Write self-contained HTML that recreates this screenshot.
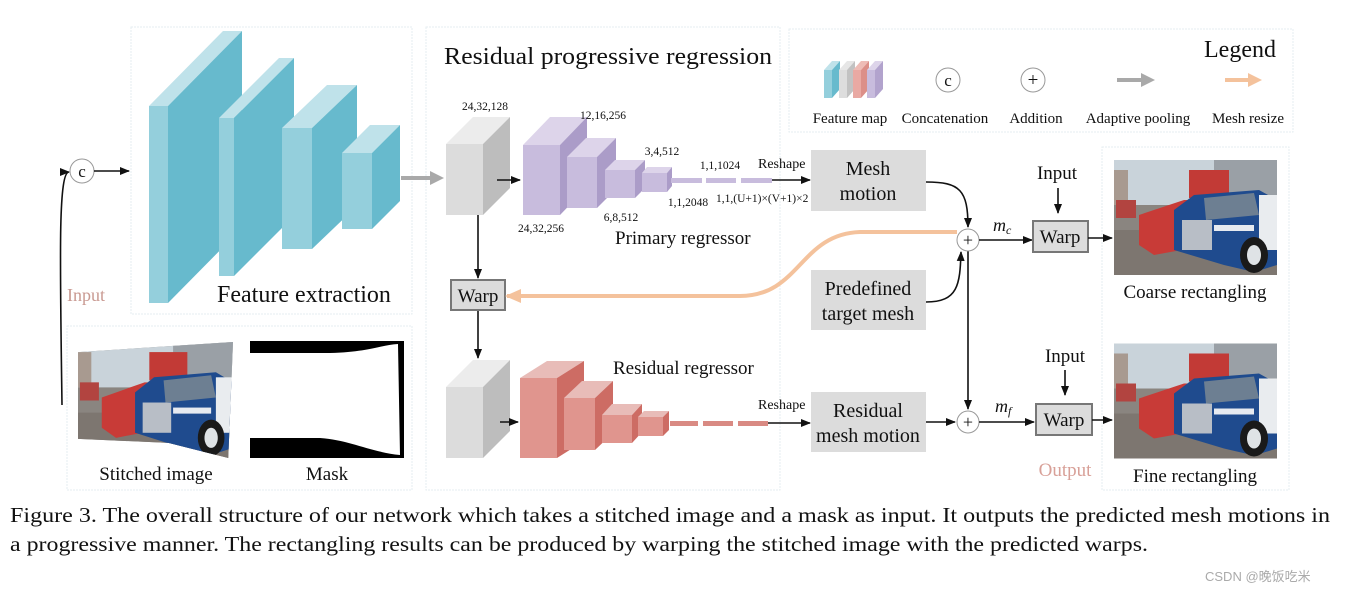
<!DOCTYPE html>
<html><head><meta charset="utf-8"><style>
html,body{margin:0;padding:0;background:#fff}
svg{display:block}
text{font-family:"Liberation Serif",serif;fill:#111}
</style></head><body>
<svg width="1358" height="594" viewBox="0 0 1358 594" xmlns="http://www.w3.org/2000/svg">
<defs>
<marker id="ah" markerWidth="10" markerHeight="8" refX="9" refY="4" orient="auto" markerUnits="userSpaceOnUse"><path d="M0,0 L10,4 L0,8 z" fill="#111"/></marker>
<marker id="oh" markerWidth="16" markerHeight="14" refX="14" refY="7" orient="auto" markerUnits="userSpaceOnUse"><path d="M0,0 L16,7 L0,14 z" fill="#f4c29c"/></marker>
<symbol id="photo" viewBox="0 0 163 115">
<rect width="163" height="115" fill="#8a8580"/>
<rect width="163" height="45" fill="#c9d3da"/>
<rect x="100" y="0" width="63" height="40" fill="#9aa0a6"/>
<rect x="75" y="10" width="40" height="28" fill="#c23a36"/>
<rect x="0" y="10" width="14" height="35" fill="#a89a90"/>
<rect x="0" y="70" width="163" height="45" fill="#7d7670"/>
<rect x="2" y="40" width="20" height="18" fill="#b24440"/>
<path d="M25,55 L70,40 L95,40 L95,85 L40,95 L25,85z" fill="#c83b37"/>
<path d="M60,50 L80,35 L145,30 L163,40 L163,105 L140,112 L110,105 L60,90z" fill="#1f4b8e"/>
<path d="M90,38 L140,33 L145,55 L92,60z" fill="#6d7f92"/>
<rect x="145" y="35" width="18" height="55" fill="#e9ecef"/>
<rect x="68" y="60" width="30" height="30" fill="#b8bec6"/>
<ellipse cx="140" cy="95" rx="14" ry="18" fill="#1a1a1a"/>
<ellipse cx="140" cy="95" rx="7" ry="10" fill="#dfe3e6"/>
<rect x="100" y="65" width="40" height="6" fill="#e6eaf0"/>
</symbol>
</defs>

<g fill="none" stroke="#e6eef0" stroke-width="1" stroke-dasharray="2,1">
<rect x="131" y="27" width="281" height="287"/>
<rect x="67" y="326" width="345" height="164"/>
<rect x="426" y="27" width="354" height="463"/>
<rect x="789" y="29" width="504" height="103"/>
<rect x="1102" y="147" width="187" height="343"/>
</g>

<g>
<polygon points="149,106 223,31 242,31 168,106" fill="#bfe2ea"/>
<polygon points="168,106 242,31 242,228 168,303" fill="#67bacd"/>
<rect x="149" y="106" width="19" height="197" fill="#94cfdc"/>
<polygon points="219,118 279,58 294,58 234,118" fill="#bfe2ea"/>
<polygon points="234,118 294,58 294,216 234,276" fill="#67bacd"/>
<rect x="219" y="118" width="15" height="158" fill="#94cfdc"/>
<polygon points="282,128 327,85 357,85 312,128" fill="#bfe2ea"/>
<polygon points="312,128 357,85 357,206 312,249" fill="#67bacd"/>
<rect x="282" y="128" width="30" height="121" fill="#94cfdc"/>
<polygon points="342,153 370,125 400,125 372,153" fill="#bfe2ea"/>
<polygon points="372,153 400,125 400,201 372,229" fill="#67bacd"/>
<rect x="342" y="153" width="30" height="76" fill="#94cfdc"/>
</g>
<text x="217" y="302" font-size="24">Feature extraction</text>
<line x1="401" y1="178" x2="432" y2="178" stroke="#a9a9a9" stroke-width="4"/>
<polygon points="430,171 444,178 430,185" fill="#a9a9a9"/>

<circle cx="82" cy="171" r="12" fill="#fff" stroke="#999"/>
<text x="82" y="177" font-size="17" text-anchor="middle">c</text>
<line x1="94" y1="171" x2="129" y2="171" stroke="#111" stroke-width="1.6" marker-end="url(#ah)"/>
<path d="M62,405 C60,260 58,172 69,172" fill="none" stroke="#111" stroke-width="1.6" marker-end="url(#ah)"/>
<text x="67" y="301" font-size="18" style="fill:#c99a92">Input</text>

<svg x="78" y="342" width="155" height="116" viewBox="0 0 163 115" preserveAspectRatio="none">
<clipPath id="cq"><polygon points="0,10 163,0 158,115 95,100 0,96"/></clipPath>
<g clip-path="url(#cq)"><use href="#photo"/></g>
</svg>
<rect x="250" y="341" width="154" height="117" fill="#000"/>
<path d="M250,353 L330,353 C370,352 380,345 398,344 L400,455 C370,452 350,440 320,438 L250,438 z" fill="#fff"/>
<text x="156" y="480" font-size="19" text-anchor="middle">Stitched image</text>
<text x="327" y="480" font-size="19" text-anchor="middle">Mask</text>

<text x="444" y="64" font-size="24" textLength="328" lengthAdjust="spacingAndGlyphs">Residual progressive regression</text>
<polygon points="446,144 473,117 510,117 483,144" fill="#ececec"/>
<polygon points="483,144 510,117 510,188 483,215" fill="#bdbdbd"/>
<rect x="446" y="144" width="37" height="71" fill="#dcdcdc"/>
<line x1="497" y1="180" x2="520" y2="180" stroke="#111" stroke-width="1.6" marker-end="url(#ah)"/>
<g>
<polygon points="523,145 550,117 587,117 560,145" fill="#ddd4ea"/>
<polygon points="560,145 587,117 587,187 560,215" fill="#ab9cc8"/>
<rect x="523" y="145" width="37" height="70" fill="#c8bcdd"/>
<polygon points="567,157 586,138 616,138 597,157" fill="#ddd4ea"/>
<polygon points="597,157 616,138 616,189 597,208" fill="#ab9cc8"/>
<rect x="567" y="157" width="30" height="51" fill="#c8bcdd"/>
<polygon points="605,170 615,160 645,160 635,170" fill="#ddd4ea"/>
<polygon points="635,170 645,160 645,188 635,198" fill="#ab9cc8"/>
<rect x="605" y="170" width="30" height="28" fill="#c8bcdd"/>
<polygon points="642,173 647,167 672,167 667,173" fill="#ddd4ea"/>
<polygon points="667,173 672,167 672,186 667,192" fill="#ab9cc8"/>
<rect x="642" y="173" width="25" height="19" fill="#c8bcdd"/>
<rect x="671" y="178" width="31" height="5" fill="#c8bcdd"/>
<rect x="706" y="178" width="30" height="5" fill="#c8bcdd"/>
<rect x="741" y="178" width="31" height="5" fill="#c8bcdd"/>
</g>
<line x1="772" y1="180" x2="810" y2="180" stroke="#111" stroke-width="1.6" marker-end="url(#ah)"/>
<g font-size="11.5">
<text x="485" y="110" text-anchor="middle">24,32,128</text>
<text x="603" y="119" text-anchor="middle">12,16,256</text>
<text x="662" y="155" text-anchor="middle">3,4,512</text>
<text x="720" y="169" text-anchor="middle">1,1,1024</text>
<text x="688" y="206" text-anchor="middle">1,1,2048</text>
<text x="716" y="202">1,1,(U+1)×(V+1)×2</text>
<text x="541" y="232" text-anchor="middle">24,32,256</text>
<text x="621" y="221" text-anchor="middle">6,8,512</text>
</g>
<text x="758" y="168" font-size="14">Reshape</text>
<text x="615" y="244" font-size="19">Primary regressor</text>

<line x1="478" y1="215" x2="478" y2="278" stroke="#111" stroke-width="1.6" marker-end="url(#ah)"/>
<rect x="451" y="280" width="54" height="30" fill="#dcdcdc" stroke="#777" stroke-width="2"/>
<text x="478" y="302" font-size="19" text-anchor="middle">Warp</text>
<line x1="478" y1="311" x2="478" y2="358" stroke="#111" stroke-width="1.6" marker-end="url(#ah)"/>

<polygon points="446,387 473,360 510,360 483,387" fill="#ececec"/>
<polygon points="483,387 510,360 510,431 483,458" fill="#bdbdbd"/>
<rect x="446" y="387" width="37" height="71" fill="#dcdcdc"/>
<line x1="500" y1="422" x2="518" y2="422" stroke="#111" stroke-width="1.6" marker-end="url(#ah)"/>
<g>
<polygon points="520,378 547,361 584,361 557,378" fill="#e8bcb8"/>
<polygon points="557,378 584,361 584,441 557,458" fill="#cd6c64"/>
<rect x="520" y="378" width="37" height="80" fill="#e0958e"/>
<polygon points="564,398 582,381 613,381 595,398" fill="#e8bcb8"/>
<polygon points="595,398 613,381 613,433 595,450" fill="#cd6c64"/>
<rect x="564" y="398" width="31" height="52" fill="#e0958e"/>
<polygon points="602,415 612,404 642,404 632,415" fill="#e8bcb8"/>
<polygon points="632,415 642,404 642,432 632,443" fill="#cd6c64"/>
<rect x="602" y="415" width="30" height="28" fill="#e0958e"/>
<polygon points="638,417 644,411 669,411 663,417" fill="#e8bcb8"/>
<polygon points="663,417 669,411 669,430 663,436" fill="#cd6c64"/>
<rect x="638" y="417" width="25" height="19" fill="#e0958e"/>
<rect x="670" y="421" width="28" height="5" fill="#d98a83"/>
<rect x="703" y="421" width="30" height="5" fill="#d98a83"/>
<rect x="738" y="421" width="30" height="5" fill="#d98a83"/>
</g>
<line x1="768" y1="423" x2="810" y2="423" stroke="#111" stroke-width="1.6" marker-end="url(#ah)"/>
<text x="758" y="409" font-size="14">Reshape</text>
<text x="613" y="374" font-size="19">Residual regressor</text>

<rect x="811" y="150" width="115" height="61" fill="#dcdcdc"/>
<text x="868" y="175" font-size="20" text-anchor="middle">Mesh</text>
<text x="868" y="200" font-size="20" text-anchor="middle">motion</text>
<rect x="811" y="270" width="115" height="60" fill="#dcdcdc"/>
<text x="868" y="295" font-size="20" text-anchor="middle">Predefined</text>
<text x="868" y="320" font-size="20" text-anchor="middle">target mesh</text>
<rect x="811" y="392" width="115" height="60" fill="#dcdcdc"/>
<text x="868" y="417" font-size="20" text-anchor="middle">Residual</text>
<text x="868" y="442" font-size="20" text-anchor="middle">mesh motion</text>

<path d="M957,232 L860,232 C800,234 800,296 740,296 L507,296" fill="none" stroke="#f4c29c" stroke-width="4" marker-end="url(#oh)"/>

<path d="M926,182 C960,182 968,190 968,227" fill="none" stroke="#111" stroke-width="1.6" marker-end="url(#ah)"/>
<path d="M926,302 C958,302 960,285 961,252" fill="none" stroke="#111" stroke-width="1.6" marker-end="url(#ah)"/>
<line x1="968" y1="251" x2="968" y2="409" stroke="#111" stroke-width="1.6" marker-end="url(#ah)"/>
<line x1="926" y1="422" x2="955" y2="422" stroke="#111" stroke-width="1.6" marker-end="url(#ah)"/>
<circle cx="968" cy="240" r="11" fill="#fff" stroke="#999"/>
<text x="968" y="246" font-size="18" text-anchor="middle">+</text>
<circle cx="968" cy="422" r="11" fill="#fff" stroke="#999"/>
<text x="968" y="428" font-size="18" text-anchor="middle">+</text>

<line x1="979" y1="240" x2="1032" y2="240" stroke="#111" stroke-width="1.6" marker-end="url(#ah)"/>
<line x1="979" y1="422" x2="1034" y2="422" stroke="#111" stroke-width="1.6" marker-end="url(#ah)"/>
<text x="993" y="231" font-size="18" font-style="italic">m<tspan font-size="12" dy="3">c</tspan></text>
<text x="995" y="412" font-size="18" font-style="italic">m<tspan font-size="12" dy="3">f</tspan></text>

<rect x="1033" y="221" width="55" height="31" fill="#dcdcdc" stroke="#777" stroke-width="2"/>
<text x="1060" y="243" font-size="19" text-anchor="middle">Warp</text>
<rect x="1036" y="404" width="56" height="31" fill="#dcdcdc" stroke="#777" stroke-width="2"/>
<text x="1064" y="426" font-size="19" text-anchor="middle">Warp</text>
<text x="1057" y="179" font-size="19" text-anchor="middle">Input</text>
<line x1="1058" y1="188" x2="1058" y2="213" stroke="#111" stroke-width="1.6" marker-end="url(#ah)"/>
<text x="1065" y="362" font-size="19" text-anchor="middle">Input</text>
<line x1="1065" y1="370" x2="1065" y2="395" stroke="#111" stroke-width="1.6" marker-end="url(#ah)"/>
<line x1="1088" y1="238" x2="1112" y2="238" stroke="#111" stroke-width="1.6" marker-end="url(#ah)"/>
<line x1="1092" y1="420" x2="1112" y2="420" stroke="#111" stroke-width="1.6" marker-end="url(#ah)"/>
<text x="1065" y="476" font-size="19" text-anchor="middle" style="fill:#d8a098">Output</text>

<use href="#photo" x="1114" y="160" width="163" height="115"/>
<use href="#photo" x="1114" y="343" width="163" height="116"/>
<text x="1195" y="298" font-size="19" text-anchor="middle">Coarse rectangling</text>
<text x="1195" y="482" font-size="19" text-anchor="middle">Fine rectangling</text>

<text x="1204" y="57" font-size="24">Legend</text>
<g>
<polygon points="824,70 832,61 840,61 832,70" fill="#bfe2ea"/><rect x="824" y="70" width="8" height="28" fill="#94cfdc"/><polygon points="832,70 840,61 840,89 832,98" fill="#67bacd"/>
<polygon points="839,70 847,61 855,61 847,70" fill="#e6e6e6"/><rect x="839" y="70" width="8" height="28" fill="#ddd"/><polygon points="847,70 855,61 855,89 847,98" fill="#c2c2c2"/>
<polygon points="853,70 861,61 869,61 861,70" fill="#eebcb6"/><rect x="853" y="70" width="8" height="28" fill="#e9a9a3"/><polygon points="861,70 869,61 869,89 861,98" fill="#dc8f88"/>
<polygon points="867,70 875,61 883,61 875,70" fill="#ddd4ea"/><rect x="867" y="70" width="8" height="28" fill="#c8bcdd"/><polygon points="875,70 883,61 883,89 875,98" fill="#b2a3cd"/>
</g>
<circle cx="948" cy="80" r="12" fill="#fff" stroke="#999"/>
<text x="948" y="86" font-size="17" text-anchor="middle">c</text>
<circle cx="1033" cy="80" r="12" fill="#fff" stroke="#999"/>
<text x="1033" y="86" font-size="19" text-anchor="middle">+</text>
<line x1="1117" y1="80" x2="1143" y2="80" stroke="#a9a9a9" stroke-width="4"/>
<polygon points="1141,73 1155,80 1141,87" fill="#a9a9a9"/>
<line x1="1225" y1="80" x2="1250" y2="80" stroke="#f4c29c" stroke-width="4"/>
<polygon points="1248,73 1262,80 1248,87" fill="#f4c29c"/>
<g font-size="15">
<text x="850" y="123" text-anchor="middle">Feature map</text>
<text x="945" y="123" text-anchor="middle">Concatenation</text>
<text x="1036" y="123" text-anchor="middle">Addition</text>
<text x="1138" y="123" text-anchor="middle">Adaptive pooling</text>
<text x="1248" y="123" text-anchor="middle">Mesh resize</text>
</g>

<text x="10" y="522" font-size="21" textLength="1320" lengthAdjust="spacingAndGlyphs">Figure 3. The overall structure of our network which takes a stitched image and a mask as input. It outputs the predicted mesh motions in</text>
<text x="10" y="551" font-size="21" textLength="1138" lengthAdjust="spacingAndGlyphs">a progressive manner. The rectangling results can be produced by warping the stitched image with the predicted warps.</text>
<text x="1205" y="581" font-size="13" style="fill:#aaa;font-family:'Liberation Sans','Noto Sans CJK SC',sans-serif">CSDN @晚饭吃米</text>
</svg>
</body></html>
